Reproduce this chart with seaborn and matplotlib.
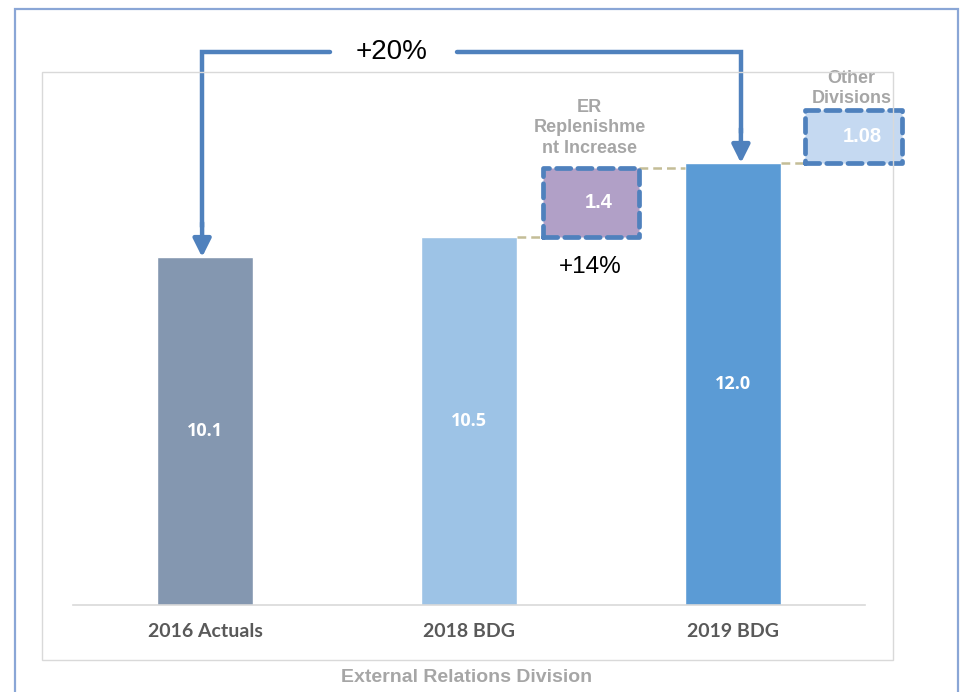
import matplotlib
matplotlib.use("Agg")
import matplotlib.pyplot as plt
import seaborn as sns
import pandas as pd
from matplotlib.patches import Rectangle

# ---- data ----
categories = ["2016 Actuals", "2018 BDG", "2019 BDG"]
values = [10.1, 10.5, 12.0]
bar_colors = ["#8497b0", "#9dc3e6", "#5b9bd5"]
increment_names = ["ER\nReplenishme\nnt Increase", "Other\nDivisions"]
increment_values = [1.4, 1.08]
increment_bases = [10.5, 12.0]
increment_colors = ["#b1a0c7", "#c5d9f1"]
growth_labels = ["+20%", "+14%"]
x_title = "External Relations Division"

sns.set_theme(style="white")
plt.rcParams["font.family"] = ["Liberation Sans", "DejaVu Sans"]
narrow = ["Liberation Sans Narrow", "Lato", "DejaVu Sans"]

W, H = 961, 692
fig = plt.figure(figsize=(W / 100, H / 100), dpi=100)

def fx(px):
    return px / W

def fy(py):
    return 1 - py / H

# outer frame and plot-area frame
fig.patches.append(Rectangle((fx(15), fy(700)), fx(958) - fx(15), fy(9) - fy(700),
                             transform=fig.transFigure, fill=False,
                             edgecolor="#8aa6d6", linewidth=1.6, zorder=0))
fig.patches.append(Rectangle((fx(42), fy(660)), fx(893) - fx(42), fy(72) - fy(660),
                             transform=fig.transFigure, fill=False,
                             edgecolor="#d9d9d9", linewidth=1.0, zorder=0))

ax = fig.add_axes([fx(73), fy(605), fx(865) - fx(73), fy(72) - fy(605)])
ax.set_facecolor("none")

df = pd.DataFrame({"cat": categories, "val": values})
sns.barplot(data=df, x="cat", y="val", hue="cat", palette=bar_colors,
            width=0.36, ax=ax, legend=False, saturation=1)

ymin = 3.07
ax.set_xlim(-0.5, 2.5)
ax.set_ylim(ymin, 13.84)
ax.set_yticks([])
ax.set_xlabel("")
ax.set_ylabel("")
for s in ["top", "left", "right"]:
    ax.spines[s].set_visible(False)
ax.spines["bottom"].set_color("#d9d9d9")
ax.spines["bottom"].set_linewidth(1.2)
ax.tick_params(axis="x", length=0, pad=13)
for lab in ax.get_xticklabels():
    lab.set_fontfamily(narrow)
    lab.set_fontweight("bold")
    lab.set_fontsize(14)
    lab.set_color("#595959")

# value labels in bars
for i, v in enumerate(values):
    ax.text(i, (ymin + v) / 2, f"{v:.1f}", ha="center", va="center",
            color="white", fontsize=13, fontweight="bold", family="Open Sans")

# floating increment boxes
box_x = [1.462, 2.458]
box_w = 0.367
blue = "#4f81bd"
for xc, base, inc, col in zip(box_x, increment_bases, increment_values,
                              increment_colors):
    r = Rectangle((xc - box_w / 2, base), box_w, inc, facecolor=col,
                  edgecolor=blue, linewidth=3.4, linestyle=(0, (3, 1.5)),
                  joinstyle="round", capstyle="round", clip_on=False, zorder=4)
    ax.add_patch(r)
    ax.text(xc + 0.03, base + inc / 2, f"{inc:g}",
            ha="center", va="center", color="white", fontsize=14.5,
            fontweight="bold", zorder=5)

ax.text(box_x[0] - 0.005, 12.71, increment_names[0], ha="center", va="center",
        color="#a6a6a6", fontsize=13, fontweight="bold", linespacing=1.3)
ax.text(box_x[1] - 0.01, 13.51, increment_names[1], ha="center", va="center",
        color="#a6a6a6", fontsize=13, fontweight="bold", linespacing=1.25,
        clip_on=False)

# dashed connectors
tan = "#c4bd97"
ax.plot([1 + 0.18, box_x[0] - box_w / 2], [values[1], values[1]],
        color=tan, lw=1.8, ls=(0, (3.5, 2)), zorder=3)
ax.plot([box_x[0] + box_w / 2, 2 - 0.18],
        [increment_bases[0] + increment_values[0]] * 2,
        color=tan, lw=1.8, ls=(0, (3.5, 2)), zorder=3)
ax.plot([2 + 0.18, box_x[1] - box_w / 2], [values[2], values[2]],
        color=tan, lw=1.8, ls=(0, (3.5, 2)), zorder=3)

# growth arrows
ytop = 14.24
xl, xr = -0.011, 2.03
ax.plot([0.473, xl, xl], [ytop, ytop, values[0] + 0.6], color=blue, lw=3.2,
        solid_joinstyle="miter", clip_on=False, zorder=6)
ax.annotate("", xy=(xl, values[0]), xytext=(xl, values[0] + 0.7),
            arrowprops=dict(arrowstyle="-|>,head_length=0.9,head_width=0.45",
                            color=blue, lw=3.2, shrinkA=0, shrinkB=0),
            annotation_clip=False, zorder=6)
ax.plot([0.955, xr, xr], [ytop, ytop, values[2] + 0.6], color=blue, lw=3.2,
        solid_joinstyle="miter", clip_on=False, zorder=6)
ax.annotate("", xy=(xr, values[2]), xytext=(xr, values[2] + 0.7),
            arrowprops=dict(arrowstyle="-|>,head_length=0.9,head_width=0.45",
                            color=blue, lw=3.2, shrinkA=0, shrinkB=0),
            annotation_clip=False, zorder=6)

ax.text(0.705, ytop, growth_labels[0], ha="center", va="center",
        fontsize=20, color="black", clip_on=False)
ax.text(1.458, 9.90, growth_labels[1], ha="center", va="center",
        fontsize=17.5, color="black")

fig.text(fx(467), fy(677), x_title, ha="center", va="center",
         color="#a6a6a6", fontsize=14, fontweight="bold")

fig.savefig("out.png", dpi=100)
